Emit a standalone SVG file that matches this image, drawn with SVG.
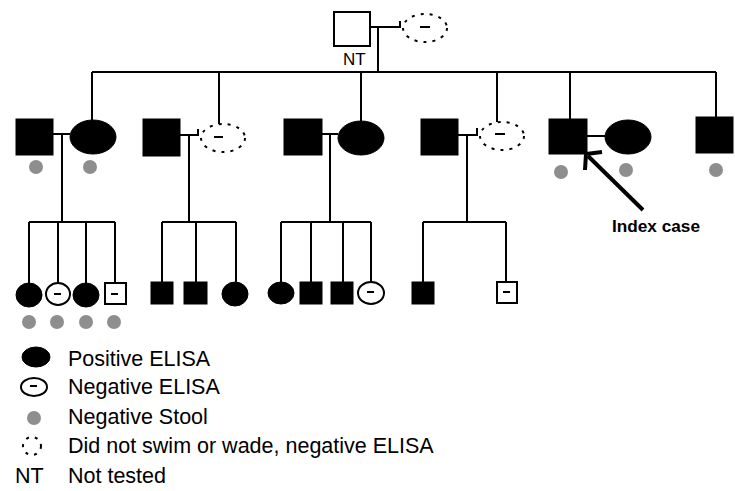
<svg xmlns="http://www.w3.org/2000/svg" width="735" height="491" viewBox="0 0 735 491">
<style>
.ln{stroke:#000;stroke-width:2;fill:none}
.m{fill:#000;stroke:#000;stroke-width:1}
.o{fill:#fff;stroke:#000;stroke-width:2}
.d{fill:none;stroke:#000;stroke-width:2;stroke-dasharray:3,6}
.g{fill:#8e8e8e}
.t{font-family:"Liberation Sans",Arial,sans-serif;fill:#000}
</style>
<rect width="735" height="491" fill="#fff"/>
<g id="connectors">
<path class="ln" d="M370,27H400V21M378,27V72M92,72H716M92,72V121M219,72V124M361,72V121M497,72V122M570,72V119M716,72V117"/>
<path class="ln" d="M53,134H70M62,134V222M29,222H115M29,222V283M58,222V283M86,222V283M115,222V283"/>
<path class="ln" d="M180,135H198V129M189,135V222M162,222H236M162,222V282M196,222V282M236,222V282"/>
<path class="ln" d="M322,134H338M330,134V222M281,222H371M281,222V282M311,222V282M343,222V282M371,222V282"/>
<path class="ln" d="M458,135H477V128M467,135V222M423,222H506M423,222V282M506,222V282"/>
<path class="ln" d="M587,136H605"/>
</g>
<g id="gen1">
<g id="n-top-male"><rect class="o" x="334" y="12" width="36" height="34"/><text class="t" x="343" y="65" font-size="17">NT</text></g>
<g id="n-top-female"><ellipse class="d" cx="425" cy="28" rx="22" ry="14"/><path class="ln" d="M420,27H430"/></g>
</g>
<g id="gen2">
<g id="n-p1m"><rect class="m" x="16" y="119" width="37" height="36"/><circle class="g" cx="36" cy="167" r="7"/></g>
<g id="n-p1f"><ellipse class="m" cx="93" cy="137" rx="23" ry="17"/><circle class="g" cx="90" cy="167" r="7"/></g>
<g id="n-p2m"><rect class="m" x="143" y="119" width="37" height="37"/></g>
<g id="n-p2f"><ellipse class="d" cx="223" cy="138" rx="22" ry="14"/><path class="ln" d="M214,137H223"/></g>
<g id="n-p3m"><rect class="m" x="284" y="119" width="38" height="36"/></g>
<g id="n-p3f"><ellipse class="m" cx="361" cy="138" rx="23" ry="17"/></g>
<g id="n-p4m"><rect class="m" x="421" y="119" width="37" height="36"/></g>
<g id="n-p4f"><ellipse class="d" cx="502" cy="136" rx="22" ry="14"/><path class="ln" d="M495,134H505"/></g>
<g id="n-p5m"><rect class="m" x="549" y="119" width="38" height="35"/><circle class="g" cx="561" cy="172" r="7"/></g>
<g id="n-p5f"><ellipse class="m" cx="628" cy="137" rx="23" ry="17"/><circle class="g" cx="626" cy="170" r="7"/></g>
<g id="n-single"><rect class="m" x="696" y="117" width="37" height="36"/><circle class="g" cx="716" cy="170" r="7"/></g>
</g>
<g id="index-arrow">
<path d="M643,210L588,156" stroke="#000" stroke-width="4" fill="none"/>
<path d="M602,152L586,154L585,170" stroke="#000" stroke-width="4" fill="none"/>
<text class="t" x="612" y="232" font-size="16" font-weight="bold" textLength="88" lengthAdjust="spacingAndGlyphs">Index case</text>
</g>
<g id="gen3">
<g id="n-c1"><ellipse class="m" cx="29" cy="295" rx="13" ry="12"/><circle class="g" cx="29" cy="322" r="7"/></g>
<g id="n-c2"><ellipse class="o" cx="58" cy="294" rx="12" ry="11"/><path class="ln" d="M54,294H61"/><circle class="g" cx="57" cy="322" r="7"/></g>
<g id="n-c3"><ellipse class="m" cx="86" cy="295" rx="13" ry="12"/><circle class="g" cx="86" cy="322" r="7"/></g>
<g id="n-c4"><rect class="o" x="105" y="283" width="21" height="21"/><path class="ln" d="M111,294H118"/><circle class="g" cx="114" cy="322" r="7"/></g>
<g id="n-c5"><rect class="m" x="151" y="282" width="22" height="22"/></g>
<g id="n-c6"><rect class="m" x="184" y="282" width="23" height="22"/></g>
<g id="n-c7"><ellipse class="m" cx="235" cy="294" rx="13" ry="12"/></g>
<g id="n-c8"><ellipse class="m" cx="281" cy="293" rx="13" ry="11"/></g>
<g id="n-c9"><rect class="m" x="300" y="282" width="22" height="22"/></g>
<g id="n-c10"><rect class="m" x="331" y="282" width="22" height="22"/></g>
<g id="n-c11"><ellipse class="o" cx="371" cy="293" rx="13" ry="11"/><path class="ln" d="M367,292H374"/></g>
<g id="n-c12"><rect class="m" x="412" y="282" width="22" height="22"/></g>
<g id="n-c13"><rect class="o" x="497" y="282" width="20" height="21"/><path class="ln" d="M503,292H510"/></g>
</g>
<g id="legend">
<ellipse class="m" cx="36" cy="357" rx="14" ry="10"/>
<text class="t" x="68" y="366" font-size="21.5">Positive ELISA</text>
<ellipse class="o" cx="34" cy="387" rx="13" ry="9"/><path class="ln" d="M30,386H37"/>
<text class="t" x="68" y="394" font-size="21.5">Negative ELISA</text>
<circle class="g" cx="34" cy="418" r="7"/>
<text class="t" x="68" y="424" font-size="21.5">Negative Stool</text>
<circle class="d" cx="32" cy="446" r="9"/>
<text class="t" x="68" y="453" font-size="21.5">Did not swim or wade, negative ELISA</text>
<text class="t" x="15" y="483" font-size="21.5">NT</text>
<text class="t" x="68" y="483" font-size="21.5">Not tested</text>
</g>
</svg>
